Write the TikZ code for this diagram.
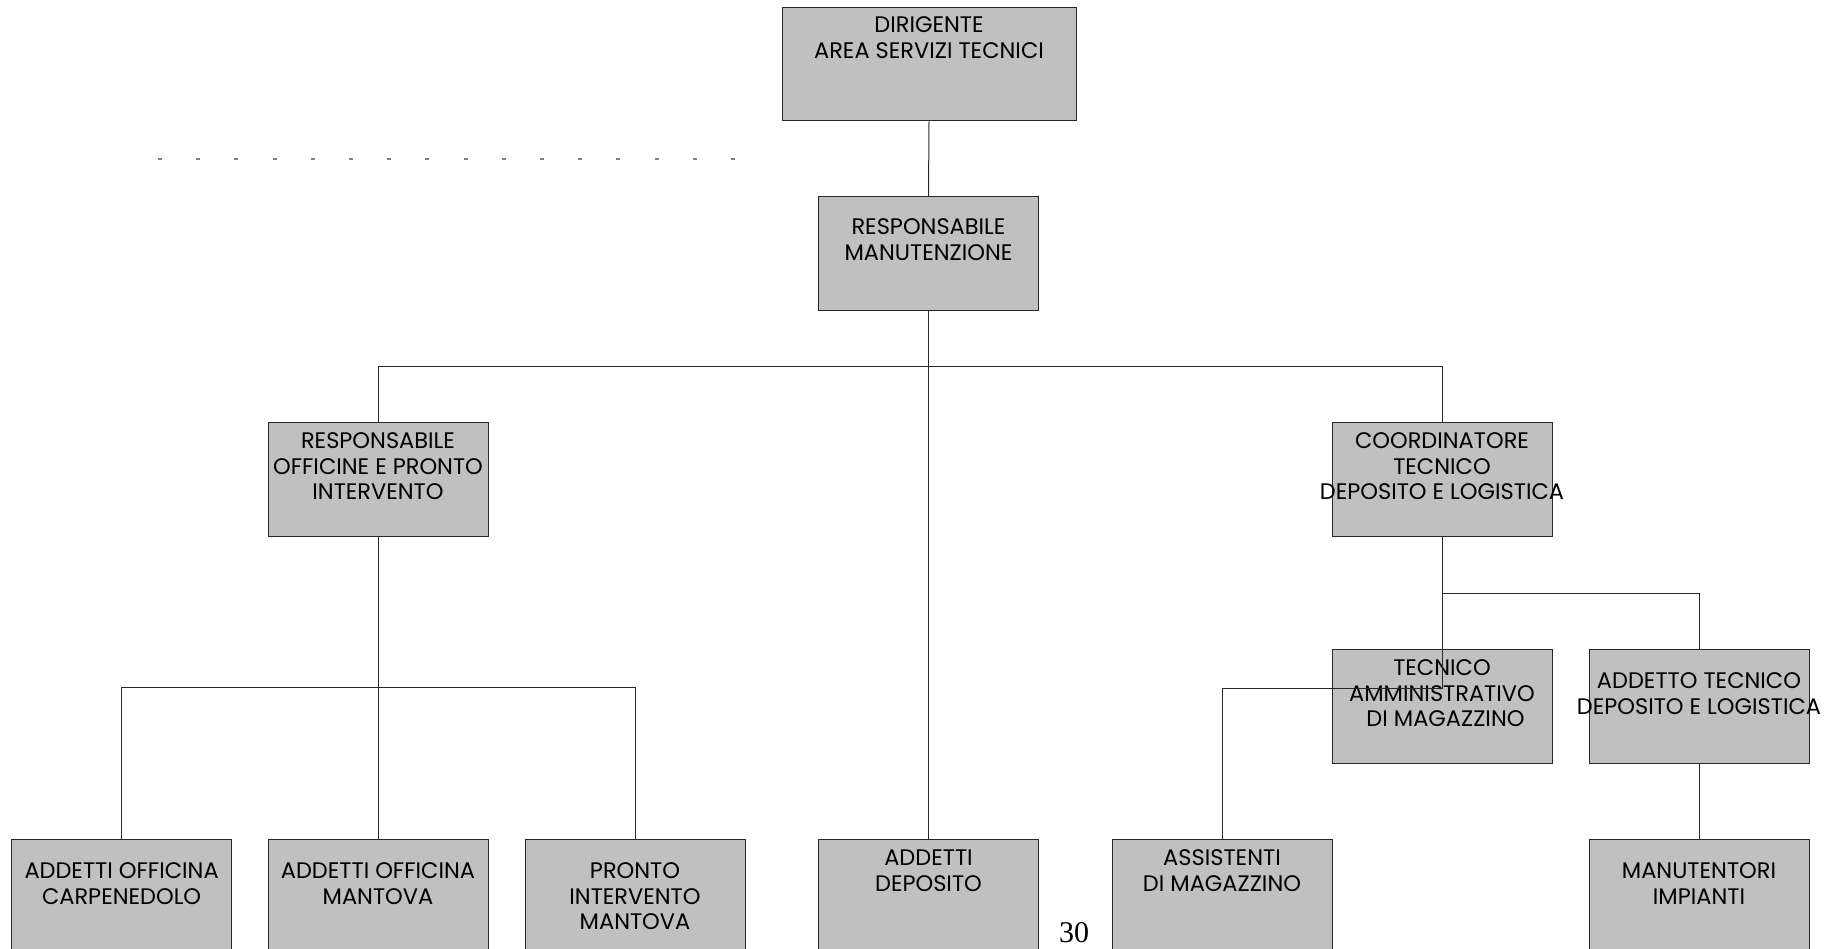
\documentclass[tikz,border=0pt]{standalone}
\usepackage{fontspec}
\setmainfont{Liberation Serif}
\newfontfamily\boxfont{Poppins}
\usepackage{tikz}

\definecolor{boxgray}{RGB}{192,192,192}
\definecolor{linegray}{RGB}{40,40,40}

\tikzset{
  orgbox/.style={draw=linegray, fill=boxgray, line width=1pt, anchor=north,
    minimum width=220pt, inner xsep=0pt, inner ysep=0pt, align=center,
    font=\boxfont\fontsize{22.5}{25.7}\selectfont},
  txt/.style 2 args={orgbox, text height=#1pt, text depth=#2pt},
  link/.style={draw=linegray, line width=1pt}
}
\newcommand{\spillline}[1]{\makebox[0pt]{#1}}

\begin{document}
\begin{tikzpicture}[x=1pt, y=-1pt]
  \useasboundingbox (0,0) rectangle (1834,949);

  % Top of the chart
  \node[txt={51.2}{62.3}, minimum width=294pt] (dir) at (929,7) {DIRIGENTE\\AREA SERVIZI TECNICI};
  \node[txt={63.7}{49.8}] (resp) at (928.5,196.5) {RESPONSABILE\\MANUTENZIONE};

  % Second level
  \node[txt={77.4}{36.1}] (off) at (378,422) {RESPONSABILE\\OFFICINE E PRONTO\\INTERVENTO};
  \node[txt={77.4}{36.1}] (coord) at (1442,422) {COORDINATORE\\TECNICO\\\spillline{DEPOSITO E LOGISTICA}};

  % Third level (right branch)
  \node[txt={77.4}{36.1}] (tam) at (1442,649) {TECNICO\\AMMINISTRATIVO\\\hspace{7pt}DI MAGAZZINO};
  \node[txt={64.7}{48.8}] (att) at (1699,649) {ADDETTO TECNICO\\\spillline{DEPOSITO E LOGISTICA}};

  % Bottom row
  \node[txt={64.7}{48.8}] (carp) at (121.6,839) {ADDETTI OFFICINA\\CARPENEDOLO};
  \node[txt={64.7}{48.8}] (mant) at (378,839) {ADDETTI OFFICINA\\MANTOVA};
  \node[txt={90.4}{23.1}] (pronto) at (635,839) {PRONTO\\INTERVENTO\\MANTOVA};
  \node[txt={51.7}{61.8}] (dep) at (928.5,839) {ADDETTI\\DEPOSITO};
  \node[txt={51.7}{61.8}] (ass) at (1222,839) {ASSISTENTI\\DI MAGAZZINO};
  \node[txt={64.7}{48.8}] (manut) at (1699,839) {MANUTENTORI\\IMPIANTI};

  % Junctions
  \coordinate (jmain) at (928.5,366.5);
  \coordinate (joff) at (378,687.5);
  \coordinate (jcoord) at (1442,593.5);
  \coordinate (jass) at (1442,688.5);

  % Connectors
  \draw[link] (dir.south) -- (resp.north);
  \draw[link] (resp.south) -- (dep.north);
  \draw[link] (off.north) |- (jmain) -| (coord.north);
  \draw[link] (off.south) -- (mant.north);
  \draw[link] (carp.north) |- (joff) -| (pronto.north);
  \draw[link] (coord.south) -- (jcoord) -| (att.north);
  \draw[link] (jcoord) -- (jass) -| (ass.north);
  \draw[link] (att.south) -- (manut.north);

  % Dotted guide at the top left
  \draw[gray, line width=1.8pt, dash pattern=on 4pt off 34.2pt] (158,159) -- (740,159);

  % Page number
  \node[font=\fontsize{30}{30}\selectfont, anchor=base] (pagenum) at (1074,942) {30};
\end{tikzpicture}
\end{document}
